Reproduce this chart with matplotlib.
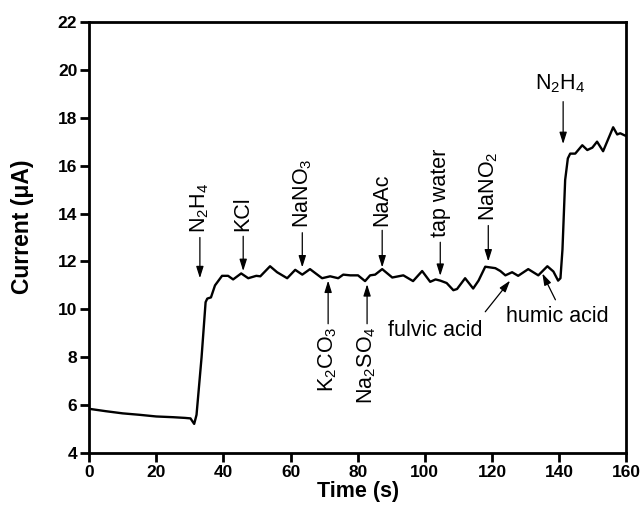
import matplotlib
matplotlib.use('Agg')
import matplotlib.pyplot as plt

plt.rcParams['font.family'] = ['Liberation Sans', 'DejaVu Sans']
plt.rcParams['mathtext.fontset'] = 'custom'
plt.rcParams['mathtext.rm'] = 'Liberation Sans'

# amperometric response
time = [0, 5, 10, 15, 20, 25, 28.6, 30.2, 31.3, 32.0, 33.5, 34.7, 35.2, 36.3, 37.5, 39.6,
        41.4, 42.9, 45.3, 47.4, 49.8, 51, 53.9, 56, 59, 61.4, 63.5, 65.8, 67.5, 69.4, 71.8,
        74.2, 75.7, 77.8, 80.1, 82.2, 83.7, 85.2, 87.3, 90.3, 93.6, 96.5, 99.2, 101.6, 103.2,
        104.6, 106.5, 108.5, 109.6, 112, 114.4, 116, 118, 121, 122.5, 124, 126, 127.8, 130.8,
        133.8, 136.5, 138.3, 139.7, 140.4, 141, 141.8, 142.6, 143.3, 144.8, 146.9, 148.4,
        149.9, 151.3, 153.1, 156.1, 157.3, 158.2, 159.7, 160]
current = [5.85, 5.75, 5.66, 5.6, 5.53, 5.5, 5.47, 5.45, 5.22, 5.6, 8.0, 10.3, 10.45, 10.5, 11.0, 11.4,
           11.4, 11.25, 11.5, 11.3, 11.4, 11.38, 11.8, 11.55, 11.3, 11.65, 11.45, 11.68, 11.5, 11.3, 11.38,
           11.3, 11.45, 11.42, 11.42, 11.18, 11.42, 11.45, 11.68, 11.33, 11.42, 11.18, 11.6, 11.15, 11.25,
           11.2, 11.1, 10.8, 10.85, 11.3, 10.87, 11.2, 11.78, 11.72, 11.6, 11.42, 11.55, 11.4, 11.68,
           11.42, 11.8, 11.58, 11.2, 11.3, 12.5, 15.4, 16.3, 16.5, 16.5, 16.85, 16.65,
           16.75, 17.0, 16.6, 17.6, 17.3, 17.35, 17.25, 17.25]

# labels above the curve (arrow pointing down)
top_labels = [r'N$_2$H$_4$', 'KCl', r'NaNO$_3$', 'NaAc', 'tap water', r'NaNO$_2$']
top_x = [33.0, 45.9, 63.5, 87.3, 104.6, 118.9]
top_tail = [13.0, 13.05, 13.2, 13.3, 12.8, 13.5]
top_head = [11.3, 11.6, 11.75, 11.75, 11.4, 12.0]

# labels below the curve (arrow pointing up)
bot_labels = [r'K$_2$CO$_3$', r'Na$_2$SO$_4$']
bot_x = [71.2, 82.8]
bot_tail = [9.4, 9.4]
bot_head = [11.2, 11.05]

# slanted arrows
side_labels = ['fulvic acid', 'humic acid']
side_text = [(103.1, 9.1), (139.4, 9.7)]
side_tail = [(118.0, 9.9), (138.9, 10.4)]
side_head = [(125.4, 11.2), (135.0, 11.5)]

fig = plt.figure(figsize=(6.41, 5.08), dpi=100)
ax = fig.add_axes([0.139, 0.108, 0.838, 0.849])

ax.plot(time, current, color='black', linewidth=1.7)

arrow = dict(arrowstyle='-|>,head_length=0.7,head_width=0.22', color='black',
             linewidth=0.9, shrinkA=0, shrinkB=0)
fs = 15.5

for name, x, t, h in zip(top_labels, top_x, top_tail, top_head):
    ax.annotate('', xy=(x, h), xytext=(x, t), arrowprops=arrow)
    ax.text(x, t + 0.2, name, rotation=90, ha='center', va='bottom', fontsize=fs)

for name, x, t, h in zip(bot_labels, bot_x, bot_tail, bot_head):
    ax.annotate('', xy=(x, h), xytext=(x, t), arrowprops=arrow)
    ax.text(x, t - 0.1, name, rotation=90, ha='center', va='top', fontsize=fs)

for name, txt, t, h in zip(side_labels, side_text, side_tail, side_head):
    ax.annotate('', xy=h, xytext=t, arrowprops=arrow)
    ax.text(txt[0], txt[1], name, ha='center', va='center', fontsize=fs)

# second hydrazine addition
ax.annotate('', xy=(141.2, 16.9), xytext=(141.2, 18.67), arrowprops=arrow)
ax.text(140.3, 19.43, r'N$_2$H$_4$', ha='center', va='center', fontsize=fs)

ax.set_xlim(0, 160)
ax.set_ylim(4, 22)
ax.set_xticks(range(0, 161, 20))
ax.set_yticks(range(4, 23, 2))

ax.set_xlabel('Time (s)', fontsize=15.5, fontweight='bold', labelpad=1)
ax.set_ylabel('Current (\u03bcA)', fontsize=16.5, fontweight='bold')
ax.yaxis.set_label_coords(-0.102, 0.525)

ax.tick_params(direction='out', length=6.5, width=2, labelsize=12.5, pad=2)
for label in ax.get_xticklabels() + ax.get_yticklabels():
    label.set_fontweight('bold')
for sp in ax.spines.values():
    sp.set_linewidth(2)

fig.savefig('out.png', dpi=100)
